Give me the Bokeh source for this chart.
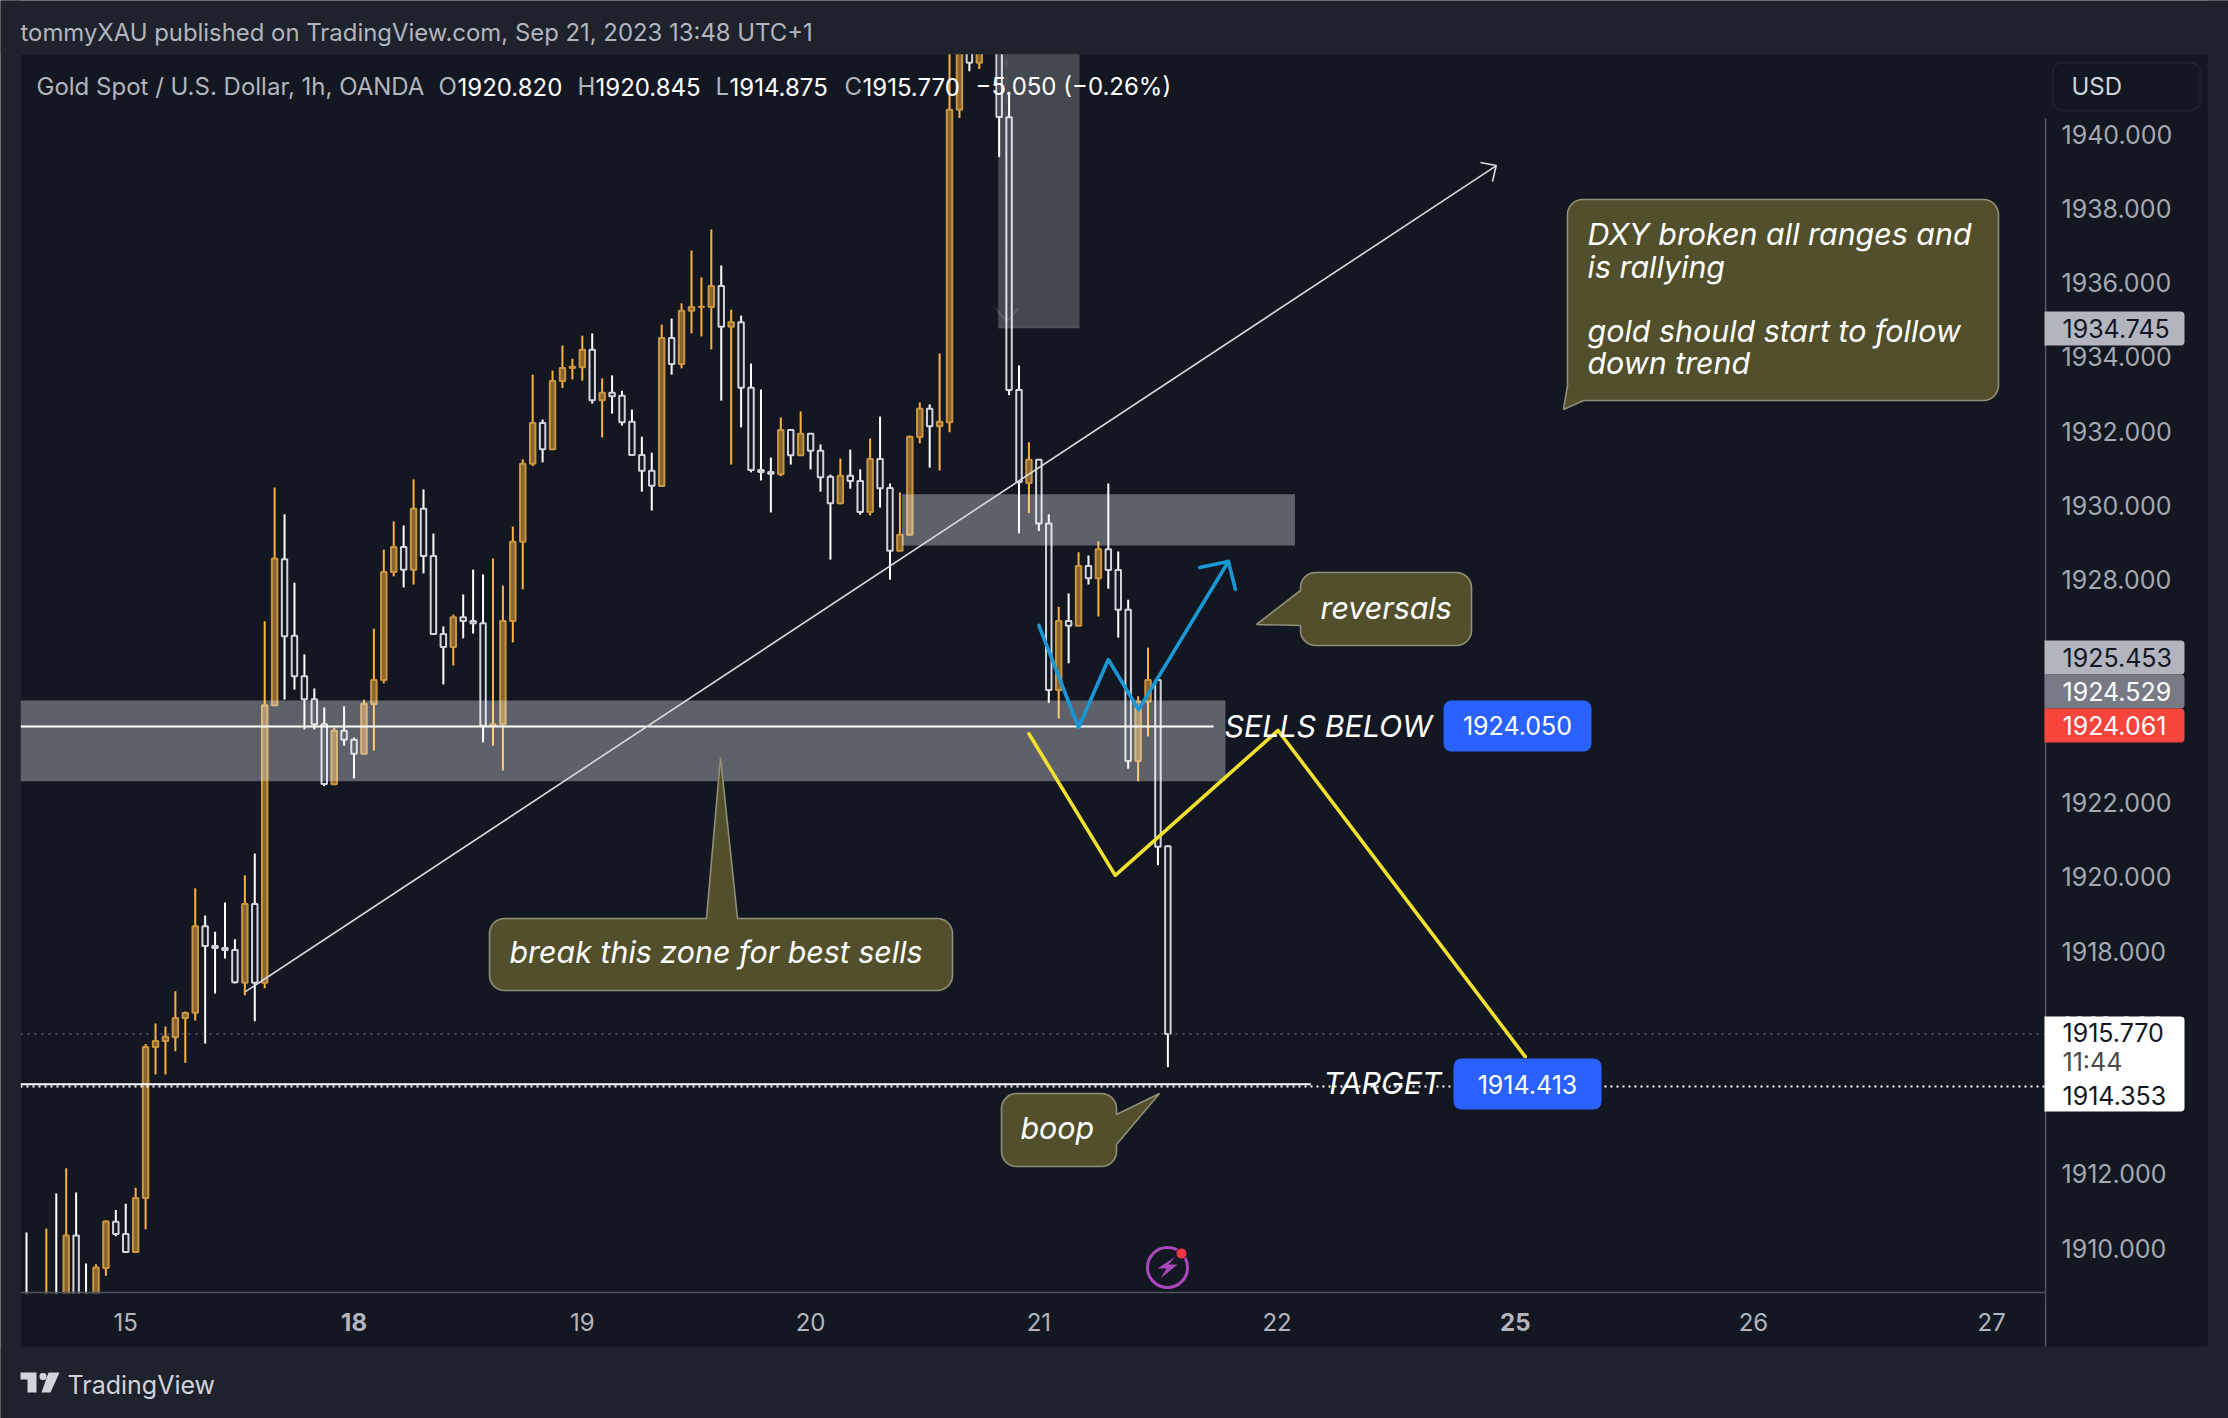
from bokeh.plotting import figure
from bokeh.embed import file_html
from bokeh.resources import INLINE
from bokeh.models import (Label, BoxAnnotation, PolyAnnotation, FixedTicker,
                          NumeralTickFormatter, ColumnDataSource)
import math

# ---- data: 1h candles, in (high, open, close, low) ----
highs = [1910.42,1908.2,1910.53,1911.47,1912.15,1911.50,1909.59,1909.57,1910.75,1911.03,1911.20,1911.63,1915.50,1916.05,1915.97,1916.92,1916.37,1919.69,1918.96,1918.52,1919.31,1918.32,1920.04,1920.63,1926.88,1930.48,1929.76,1927.92,1925.99,1925.07,1924.56,1924.02,1924.59,1923.75,1924.77,1926.68,1928.81,1929.57,1929.46,1930.70,1930.43,1929.24,1926.74,1927.06,1927.60,1928.27,1928.14,1928.57,1927.84,1929.43,1931.24,1933.52,1932.31,1933.63,1934.30,1933.95,1934.57,1934.63,1933.42,1933.50,1933.09,1932.58,1931.85,1931.42,1934.87,1935.03,1935.44,1936.86,1936.14,1937.43,1936.46,1935.27,1935.11,1933.82,1933.12,1931.29,1932.37,1932.03,1932.53,1931.93,1931.64,1930.83,1931.26,1931.50,1930.97,1931.80,1932.39,1930.59,1930.35,1931.88,1932.77,1932.72,1934.09,1943.0,1943.8,1943.6,1943.6,1944.2,1944.0,1941.08,1933.77,1931.70,1931.23,1929.76,1927.27,1927.63,1928.74,1928.65,1929.03,1930.59,1928.76,1927.46,1924.86,1926.17,1925.35,1920.845]
opens = [1908.3,1908.0,1907.6,1908.5,1908.2,1910.34,1908.7,1908.5,1909.47,1910.71,1910.38,1909.90,1911.35,1915.42,1915.58,1915.68,1916.20,1916.34,1918.67,1918.14,1918.08,1918.03,1917.15,1919.27,1917.15,1924.62,1928.55,1926.49,1925.40,1924.78,1924.11,1922.49,1923.93,1923.69,1923.31,1924.65,1925.30,1928.21,1928.88,1928.27,1929.91,1928.64,1926.54,1926.19,1926.99,1926.89,1926.83,1924.07,1924.11,1926.89,1929.02,1931.12,1932.22,1931.51,1933.35,1933.70,1933.72,1934.19,1932.83,1933.03,1932.95,1932.25,1931.36,1930.93,1930.52,1934.51,1933.81,1935.24,1935.34,1935.34,1935.91,1934.81,1934.93,1933.17,1930.95,1930.90,1930.84,1932.03,1931.35,1931.93,1931.47,1930.77,1930.06,1930.80,1930.66,1929.82,1931.25,1930.47,1928.78,1929.21,1931.84,1932.60,1932.13,1932.24,1940.65,1943.0,1941.92,1943.6,1943.5,1940.45,1933.11,1930.60,1931.23,1929.51,1925.03,1926.89,1926.76,1928.37,1928.04,1928.82,1928.26,1927.19,1923.12,1924.72,1925.30,1920.820]
closes = [1907.6,1907.6,1908.4,1907.8,1910.34,1908.3,1908.3,1909.48,1910.72,1910.38,1909.90,1911.35,1915.42,1915.58,1915.69,1916.20,1916.33,1918.67,1918.14,1918.08,1918.03,1917.16,1919.27,1917.15,1924.62,1928.57,1926.48,1925.40,1924.78,1924.11,1922.50,1923.93,1923.69,1923.31,1924.66,1925.30,1928.21,1928.88,1928.27,1929.91,1928.64,1926.54,1926.19,1926.99,1926.89,1926.83,1924.07,1924.11,1926.89,1929.02,1931.12,1932.22,1931.51,1933.35,1933.70,1933.73,1934.19,1932.83,1933.03,1932.94,1932.24,1931.36,1930.93,1930.53,1934.51,1933.81,1935.24,1935.34,1935.35,1935.91,1934.81,1934.93,1933.17,1930.95,1930.90,1930.85,1932.03,1931.35,1931.93,1931.47,1930.76,1930.06,1930.80,1930.66,1929.82,1931.25,1930.46,1928.78,1929.21,1931.85,1932.60,1932.13,1932.25,1940.65,1943.2,1941.92,1943.0,1943.4,1940.46,1933.11,1930.63,1931.23,1929.51,1925.03,1926.89,1926.76,1928.37,1928.04,1928.82,1928.26,1927.19,1923.12,1924.72,1925.30,1920.81,1915.770]
lows = [1907.2,1907.2,1907.2,1907.4,1907.9,1908.0,1907.9,1908.2,1909.26,1910.32,1909.90,1909.90,1910.51,1914.68,1914.68,1915.30,1914.99,1916.13,1915.51,1916.86,1917.80,1917.13,1916.81,1916.11,1917.0,1924.62,1924.77,1925.04,1923.97,1923.97,1922.44,1922.47,1923.53,1922.65,1923.31,1923.40,1925.21,1928.09,1927.79,1927.87,1928.17,1926.54,1925.18,1925.69,1926.42,1926.55,1923.62,1923.53,1922.86,1926.31,1927.74,1931.06,1931.16,1931.51,1933.16,1933.39,1933.36,1932.74,1931.83,1932.47,1932.15,1931.34,1930.37,1929.86,1930.52,1933.52,1933.69,1934.63,1934.55,1934.20,1932.82,1931.10,1932.10,1930.89,1930.67,1929.81,1930.79,1931.10,1931.35,1930.97,1930.37,1928.54,1930.03,1930.45,1929.75,1929.73,1929.94,1928.0,1928.78,1929.21,1931.67,1931.02,1930.94,1931.97,1940.43,1941.69,1941.75,1943.3,1939.38,1932.97,1929.25,1929.79,1929.31,1924.68,1924.26,1925.75,1926.76,1927.87,1927.01,1927.76,1926.44,1922.91,1922.57,1923.78,1920.31,1914.875]

price_ticks = list(range(1910, 1942, 2))
date_ticks = {10: "15", 56: "19", 79: "20", 102: "21", 126: "22", 174: "26", 198: "27"}
bold_date_ticks = {33: "18", 150: "25"}

# ---- analyst drawings, (bar index, price) ----
sell_level = 1924.05
target_level = 1914.413
target_dotted = 1914.353
last_price = 1915.77
zone_main = (-0.6, 120.8, 1924.75, 1922.57)
zone_mid = (88.2, 127.8, 1930.30, 1928.92)
zone_top = (97.9, 106.1, 1943.0, 1934.79)
trend_x = [22.07, 148.1]
trend_y = [1916.91, 1939.15]
blue_x = [102.0, 106.0, 109.0, 112.05, 121.1]
blue_y = [1926.77, 1924.02, 1925.85, 1924.50, 1928.49]
blue_head_x = [118.2, 121.1, 121.8]
blue_head_y = [1928.33, 1928.49, 1927.74]
yellow_x = [101.0, 109.7, 126.1, 151.0]
yellow_y = [1923.85, 1920.04, 1923.94, 1915.16]

# ---- page pixel -> chart coordinates ----
def X(px): return (px - 26.0) / 9.925
def Y(py): return 1940.0 - (py - 133.5) / 37.14

BG_OUT, BG_IN = "#1e222d", "#131722"
GREY = "#b2b5be"
FONT = "Inter"

# The frame covers the whole page so that everything can be laid out on one scale.
p = figure(width=2228, height=1418, x_range=(X(0), X(2228)), y_range=(Y(1418), Y(0)),
           output_backend="svg", toolbar_location=None, tools="",
           x_axis_location="below", y_axis_location="right",
           min_border=0, background_fill_color=BG_IN, border_fill_color=BG_IN, outline_line_color=None)
p.grid.visible = False

def box(l, r, t, b, fill, alpha=1.0, line=None, lw=1, level="annotation", radius=0):
    a = BoxAnnotation(left=X(l), right=X(r), top=Y(t), bottom=Y(b), fill_color=fill, fill_alpha=alpha,
                      line_color=line, line_width=lw, level=level, border_radius=radius)
    p.add_layout(a)
    return a

def text(px, py, s, color="#ffffff", size=24, align="left", style="normal", font=FONT):
    p.add_layout(Label(x=X(px), y=Y(py), text=s, text_color=color, text_font=font,
                       text_font_size=f"{size}px", text_align=align, text_baseline="middle",
                       text_font_style=style))

# pane furniture
box(0, 2228, 0, 53.5, BG_OUT)
box(0, 20, 0, 1418, BG_OUT)
box(2208, 2228, 0, 1418, BG_OUT)
box(0, 2228, 1347, 1418, BG_OUT)
box(19.5, 2208, 53.5, 1347, None, line="#2a2e39", lw=2)
box(20, 2044, 1293, 1303, BG_IN, level="guide")
box(2044.3, 2045.9, 118, 1347, "#50535e", level="guide")
box(20, 2045, 1291.2, 1292.8, "#50535e", level="guide")

# axes, pinned inside the page-sized frame
ax = p.yaxis[0]
ax.fixed_location = X(2045)
ax.ticker = FixedTicker(ticks=price_ticks)
ax.formatter = NumeralTickFormatter(format="0.000")
ax.major_label_text_color = "#a5a8b1"
ax.major_label_text_font = FONT
ax.major_label_text_font_size = "25px"
ax.major_label_standoff = 10
ax.axis_line_color = None
ax.major_tick_line_color = None
ax.minor_tick_line_color = None
bx = p.xaxis[0]
bx.fixed_location = Y(1292)
bx.ticker = FixedTicker(ticks=list(date_ticks))
bx.major_label_overrides = dict(date_ticks)
bx.major_label_text_color = GREY
bx.major_label_text_font = FONT
bx.major_label_text_font_size = "24px"
bx.major_label_standoff = 14
bx.axis_line_color = None
bx.major_tick_line_color = None
bx.minor_tick_line_color = None
for i, s in bold_date_ticks.items():
    p.add_layout(Label(x=i, y=Y(1321), text=s, text_color=GREY, text_font=FONT, text_font_size="24px",
                       text_align="center", text_baseline="middle", text_font_style="bold"))

# candles (values that leave the pane are cut just beyond its edges)
floor_price, ceil_price = Y(1300), Y(40)
n = len(closes)
idx = list(range(n))
up = [i for i in idx if closes[i] >= opens[i]]
dn = [i for i in idx if closes[i] < opens[i]]
def cds(ii):
    cut = lambda v: min(max(v, floor_price), ceil_price)
    return ColumnDataSource(dict(
        x=ii,
        h=[cut(highs[i]) for i in ii], l=[cut(lows[i]) for i in ii],
        t=[cut(max(opens[i], closes[i])) for i in ii], b=[cut(min(opens[i], closes[i])) for i in ii]))
su, sd = cds(up), cds(dn)
for s, wick in ((su, "#ffb13b"), (sd, "#ffffff")):
    p.segment("x", "h", "x", "t", source=s, line_color=wick, line_width=2)
    p.segment("x", "b", "x", "l", source=s, line_color=wick, line_width=2)
p.vbar("x", 0.55, "t", "b", source=su, fill_color="#ffb13b", fill_alpha=0.5, line_color="#c9963f", line_width=2)
p.vbar("x", 0.55, "t", "b", source=sd, fill_color=None, line_color="#d1d4dc", line_width=2)

# price lines
p.line([X(20), X(2045)], [last_price, last_price], line_color="#5d606b", line_width=1.5, line_dash="2 5")
p.line([X(20), X(2045)], [target_dotted, target_dotted], line_color="#ffffff", line_width=2, line_dash="2 4")

# zones
for (l, r, t, b), a in ((zone_main, 0.32), (zone_mid, 0.32), (zone_top, 0.21)):
    p.quad(left=[l], right=[r], top=[t], bottom=[b], fill_color="#ffffff", fill_alpha=a, line_color=None)
p.line([zone_top[0], zone_top[1]], [zone_top[3], zone_top[3]], line_color="#ffffff", line_alpha=0.15, line_width=2)
p.line([98.74, 98.74], [1943.0, 1934.95], line_color="#ffffff", line_alpha=0.08, line_width=2, line_dash="10 8")
p.line([97.7, 98.74, 99.95], [1935.3, 1934.95, 1935.3], line_color="#ffffff", line_alpha=0.12, line_width=2)

# horizontal levels
p.line([X(20), 119.6], [sell_level, sell_level], line_color="#ffffff", line_width=2)
p.line([X(20), 129.4], [target_level, target_level], line_color="#ffffff", line_width=2)

# trend line with arrow
p.line(trend_x, trend_y, line_color="#d8dae0", line_width=1.6)
p.line([X(1480), X(1495.7), X(1492)], [Y(162), Y(165), Y(181)], line_color="#d8dae0", line_width=1.6)

# blue and yellow paths
p.line(blue_x, blue_y, line_color="#1a97d5", line_width=3.6, line_join="round", line_cap="round")
p.line(blue_head_x, blue_head_y, line_color="#1a97d5", line_width=3.6, line_join="round", line_cap="round")
p.line(yellow_x, yellow_y, line_color="#f2df2e", line_width=3.6, line_join="round", line_cap="round")

# callouts
def callout(l, t, r, b, tail, rad=15):
    """Rounded rectangle; tail = (side, a, tip_x, tip_y, c) inserted along one side."""
    side, a, tx, ty, c = tail
    pts = []
    def arc(cx, cy, a0):
        for k in range(9):
            ang = math.radians(a0 + k * 90 / 8)
            pts.append((cx + rad * math.cos(ang), cy + rad * math.sin(ang)))
    arc(l + rad, t + rad, 180)
    if side == "top":
        pts += [(a, t), (tx, ty), (c, t)]
    arc(r - rad, t + rad, 270)
    if side == "right":
        pts += [(r, a), (tx, ty), (r, c)]
    arc(r - rad, b - rad, 0)
    if side == "bottom":
        pts += [(a, b), (tx, ty), (c, b)]
    if side != "corner":
        arc(l + rad, b - rad, 90)
    else:
        pts += [(a, b), (tx, ty), (l, c)]
    if side == "left":
        pts += [(l, a), (tx, ty), (l, c)]
    p.patch([X(x) for x, _ in pts], [Y(y) for _, y in pts], fill_color="#524f2c",
            line_color="#8f8f78", line_width=1.6)

callout(1567, 199, 1998, 400, ("corner", 1583, 1563, 409, 385))
callout(1300, 572, 1471, 645, ("left", 625, 1256, 624, 590))
callout(489, 918, 952, 990, ("top", 706, 720, 757, 737))
callout(1001, 1093, 1116, 1166, ("right", 1114, 1159, 1093, 1144))

IT = dict(style="italic", size=30.4)
text(1587, 233, "DXY broken all ranges and", **IT)
text(1587, 266, "is rallying", **IT)
text(1587, 330, "gold should start to follow", **IT)
text(1587, 362, "down trend", **IT)
text(1320, 607, "reversals", **IT)
text(509, 951, "break this zone for best sells", **IT)
text(1020, 1127, "boop", **IT)
text(1224, 725, "SELLS BELOW", **IT)
text(1323, 1082, "TARGET", **IT)

box(1443, 1591, 700, 751, "#2962ff", radius=8)
text(1517, 725, "1924.050", size=25, align="center")
box(1453, 1601, 1058, 1109, "#2962ff", radius=8)
text(1527, 1084, "1914.413", size=25, align="center")

# news icon
p.circle([X(1167)], [Y(1267)], radius=20 * 0.1008, fill_color=None, line_color="#ab47bc", line_width=3)
bolt = [(1175, 1256), (1157, 1268), (1166, 1268), (1160, 1278), (1177, 1264), (1168, 1264)]
p.patch([X(a) for a, _ in bolt], [Y(b) for _, b in bolt], fill_color="#ab47bc", line_color=None)
p.scatter([X(1181)], [Y(1253)], size=11, fill_color="#f23645", line_color=BG_IN, line_width=1)

# header + legend
text(20, 32, "tommyXAU published on TradingView.com, Sep 21, 2023 13:48 UTC+1", color=GREY, size=23.9)
legend = [(36, "Gold Spot / U.S. Dollar, 1h, OANDA", GREY), (438, "O", GREY), (457, "1920.820", "#ffffff"),
          (577, "H", GREY), (595, "1920.845", "#ffffff"), (715, "L", GREY), (729, "1914.875", "#ffffff"),
          (844, "C", GREY), (862, "1915.770", "#ffffff"), (975, "\u22125.050 (\u22120.26%)", "#ffffff")]
for x0, s, c in legend:
    text(x0, 86, s, color=c, size=24)

# USD button
box(2052, 2200, 62, 110, BG_IN, line="#363a45", lw=2, radius=10)
text(2071, 86, "USD", color="#d1d4dc", size=24)

# price tags
for top, bot, fill, txt, col in [(311, 345, "#b2b5be", "1934.745", "#131722"),
                                 (640, 674, "#b2b5be", "1925.453", "#131722"),
                                 (674, 708, "#787b86", "1924.529", "#ffffff"),
                                 (708, 742, "#f7453b", "1924.061", "#ffffff")]:
    box(2044, 2184, top, bot, fill, radius=(0, 4, 4, 0))
    text(2062, (top + bot) / 2, txt, color=col, size=25)
box(2044, 2184, 1016, 1111, "#ffffff", radius=(0, 4, 4, 0))
text(2062, 1032, "1915.770", color="#131722", size=25)
text(2062, 1061, "11:44", color="#4a4a4a", size=25)
text(2062, 1095, "1914.353", color="#131722", size=25)

# TradingView logo
LOGO = "#d1d4dc"
for shape in ([(20, 1372), (36, 1372), (36, 1392), (27, 1392), (27, 1379), (20, 1379)],
              [(48, 1372), (59, 1372), (50, 1392), (41, 1392)]):
    p.add_layout(PolyAnnotation(xs=[X(a) for a, _ in shape], ys=[Y(b) for _, b in shape],
                                fill_color=LOGO, fill_alpha=1, line_color=None))
box(39, 46, 1372.5, 1379.5, LOGO, radius=3)
text(67, 1384, "TradingView", color=LOGO, size=25)

open("out.html", "w").write(file_html(p, INLINE, title="XAUUSD"))
